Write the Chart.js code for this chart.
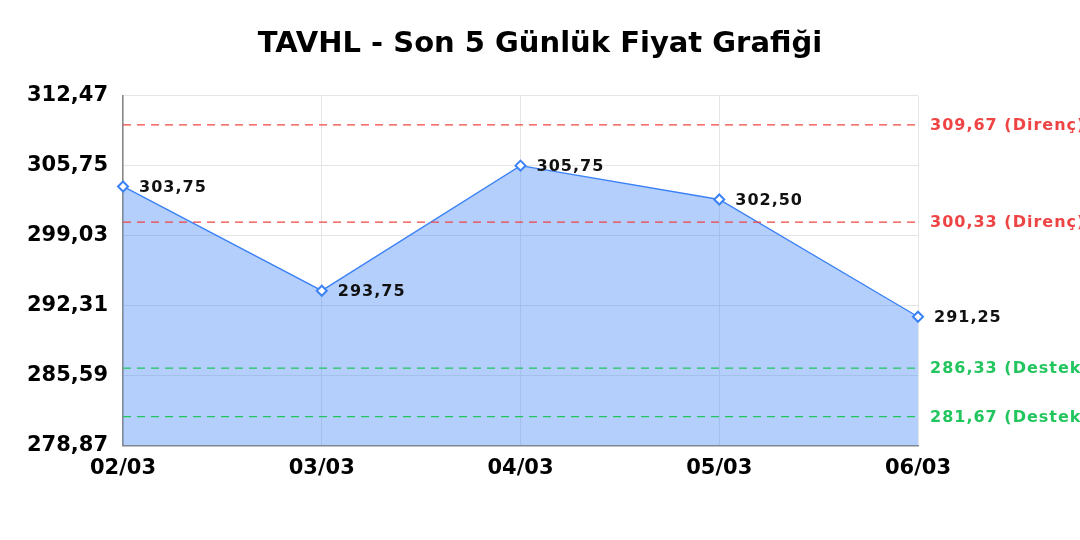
<!DOCTYPE html>
<html>
<head>
<meta charset="utf-8">
<script src="https://cdn.jsdelivr.net/npm/chart.js@4.4.1/dist/chart.umd.min.js"></script>
<style>
  html, body { margin: 0; padding: 0; background: #fff; }
  #wrap { width: 1080px; height: 540px; }
</style>
</head>
<body>
<div id="wrap"><canvas id="chart"></canvas></div>
<script>
const labels = ["02/03", "03/03", "04/03", "05/03", "06/03"];
const prices = [303.75, 293.75, 305.75, 302.50, 291.25];
const yTicks = [278.87, 285.59, 292.31, 299.03, 305.75, 312.47];
const resistance = [309.67, 300.33];
const support = [286.33, 281.67];
const titleText = "TAVHL - Son 5 Günlük Fiyat Grafiği";

function fmt(v) {
  return v.toFixed(2).replace(".", ",");
}

// başlık tüm genişliğe göre ortalansın
const centerTitlePlugin = {
  id: "centerTitle",
  afterDraw(chart) {
    const t = chart.titleBlock;
    const ctx = chart.ctx;
    ctx.save();
    ctx.fillStyle = "#000";
    ctx.font = "bold 29px 'DejaVu Sans'";
    ctx.textAlign = "center";
    ctx.textBaseline = "middle";
    ctx.fillText(titleText, chart.width / 2, t.top + 33);
    ctx.restore();
  }
};

// yatay destek / direnç çizgileri + nokta etiketleri
const levelsPlugin = {
  id: "levels",
  afterDatasetsDraw(chart) {
    const { ctx, chartArea, scales } = chart;
    const y = scales.y;
    const lines = [
      ...resistance.map(v => ({ v, color: "#ef4444", text: fmt(v) + " (Direnç)" })),
      ...support.map(v => ({ v, color: "#22c55e", text: fmt(v) + " (Destek)" }))
    ];
    ctx.save();
    ctx.letterSpacing = "1px";
    lines.forEach(l => {
      const py = y.getPixelForValue(l.v);
      ctx.strokeStyle = l.color;
      ctx.lineWidth = 1.2;
      ctx.setLineDash([8, 6]);
      ctx.beginPath();
      ctx.moveTo(chartArea.left, py);
      ctx.lineTo(chartArea.right, py);
      ctx.stroke();
      ctx.setLineDash([]);
      ctx.fillStyle = l.color;
      ctx.font = "bold 16px 'DejaVu Sans'";
      ctx.textAlign = "left";
      ctx.textBaseline = "middle";
      ctx.fillText(l.text, chartArea.right + 12, py + 1);
    });

    const meta = chart.getDatasetMeta(0);
    ctx.fillStyle = "#111";
    ctx.font = "bold 16px 'DejaVu Sans'";
    meta.data.forEach((pt, i) => {
      ctx.fillText(fmt(prices[i]), pt.x + 16, pt.y + 1);
    });
    ctx.restore();
  }
};

const ctx = document.getElementById("chart").getContext("2d");
const chart = new Chart(ctx, {
  type: "line",
  data: {
    labels: labels,
    datasets: [{
      data: prices,
      borderColor: "#3b82f6",
      borderWidth: 1.4,
      backgroundColor: "rgba(59,130,246,0.38)",
      fill: "origin",
      tension: 0,
      pointStyle: "rectRot",
      pointRadius: 5,
      pointBorderWidth: 2,
      pointBackgroundColor: "#fff",
      pointBorderColor: "#3b82f6"
    }]
  },
  options: {
    responsive: true,
    maintainAspectRatio: false,
    animation: false,
    layout: { padding: { left: 12, right: 162, top: 11, bottom: 49 } },
    plugins: {
      legend: { display: false },
      tooltip: { enabled: false },
      title: {
        display: true,
        text: titleText,
        color: "rgba(0,0,0,0)",
        font: { family: "'DejaVu Sans'", size: 28, weight: "bold" },
        padding: { top: 17, bottom: 34 }
      }
    },
    scales: {
      x: {
        offset: false,
        grid: { color: "#e5e5e5", drawTicks: false },
        border: { color: "#888", width: 1.5 },
        ticks: {
          color: "#000",
          padding: 10,
          maxRotation: 0,
          font: { family: "'DejaVu Sans'", size: 21, weight: "bold" }
        }
      },
      y: {
        min: yTicks[0],
        max: yTicks[yTicks.length - 1],
        afterBuildTicks(axis) {
          axis.ticks = yTicks.map(v => ({ value: v }));
        },
        grid: { color: "#e5e5e5", drawTicks: false },
        border: { color: "#888", width: 1.5 },
        ticks: {
          color: "#000",
          padding: 15,
          font: { family: "'DejaVu Sans'", size: 21, weight: "bold" },
          callback: v => fmt(v)
        }
      }
    }
  },
  plugins: [levelsPlugin, centerTitlePlugin]
});
</script>
</body>
</html>
